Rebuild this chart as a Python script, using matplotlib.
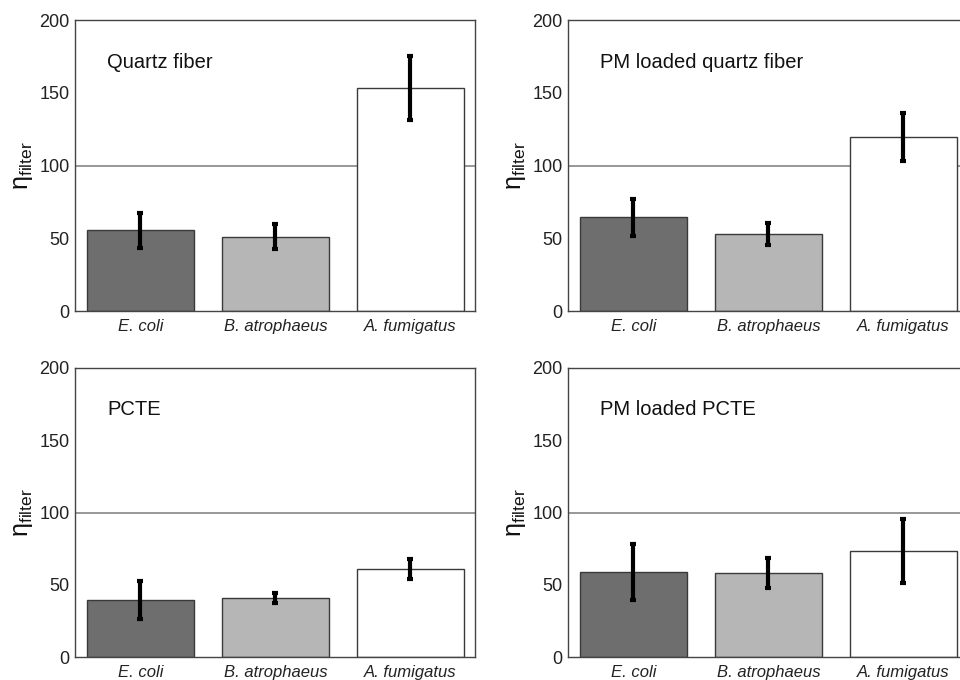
import matplotlib
matplotlib.use("Agg")
import matplotlib.pyplot as plt
import numpy as np

plt.rcParams['font.family'] = ['Liberation Sans', 'DejaVu Sans']
plt.rcParams['mathtext.fontset'] = 'custom'
plt.rcParams['mathtext.rm'] = 'Liberation Sans'
plt.rcParams['mathtext.it'] = 'Liberation Sans:italic'

categories = ["E. coli", "B. atrophaeus", "A. fumigatus"]
panel_titles = ["Quartz fiber", "PM loaded quartz fiber", "PCTE", "PM loaded PCTE"]
quartz = [55.5, 51.0, 153.0]
quartz_err = [12.0, 8.5, 22.0]
pm_quartz = [64.5, 53.0, 119.5]
pm_quartz_err = [12.8, 7.7, 16.3]
pcte = [39.5, 41.0, 61.0]
pcte_err = [13.4, 3.6, 6.7]
pm_pcte = [59.0, 58.3, 73.5]
pm_pcte_err = [19.3, 10.4, 22.2]
yticks = [0, 50, 100, 150, 200]
reference_level = 100

values = [quartz, pm_quartz, pcte, pm_pcte]
errors = [quartz_err, pm_quartz_err, pcte_err, pm_pcte_err]
fills = ["#6e6e6e", "#b6b6b6", "#ffffff"]

fig = plt.figure(figsize=(9.6, 6.8), dpi=100)
positions = [
    [75/960, 369/680, 400/960, 291/680],
    [568/960, 369/680, 400/960, 291/680],
    [75/960, 23/680, 400/960, 289/680],
    [568/960, 23/680, 400/960, 289/680],
]

x = np.arange(len(categories))
for pos, title, vals, errs in zip(positions, panel_titles, values, errors):
    ax = fig.add_axes(pos)
    ax.axhline(reference_level, color="#909090", lw=1.3, zorder=1)
    ax.bar(x, vals, width=0.79, color=fills, edgecolor="#3a3a3a", linewidth=1.0, zorder=2)
    ax.errorbar(x, vals, yerr=errs, fmt="none", ecolor="black", elinewidth=3.0,
                capsize=2.5, capthick=3, zorder=3)
    ax.set_xlim(-0.485, 2.48)
    ax.set_ylim(0, 200)
    ax.set_yticks(yticks)
    ax.set_yticklabels([str(t) for t in yticks], fontsize=13)
    ax.set_xticks(x)
    ax.set_xticklabels(categories, fontsize=12, style="italic")
    ax.tick_params(axis="both", length=0, colors="#222222")
    ax.tick_params(axis="y", pad=4)
    ax.tick_params(axis="x", pad=6)
    for s in ax.spines.values():
        s.set_color("#444444")
        s.set_linewidth(1.0)
    ax.text(0.08, 0.855, title, transform=ax.transAxes, fontsize=14.5,
            ha="left", va="center", color="#111111")
    ax.set_ylabel(r"$\mathrm{\eta}_{\mathrm{filter}}$", fontsize=18, color="#111111")
    ax.yaxis.set_label_coords(-0.1, 0.5)

fig.savefig("out.png", dpi=100)
